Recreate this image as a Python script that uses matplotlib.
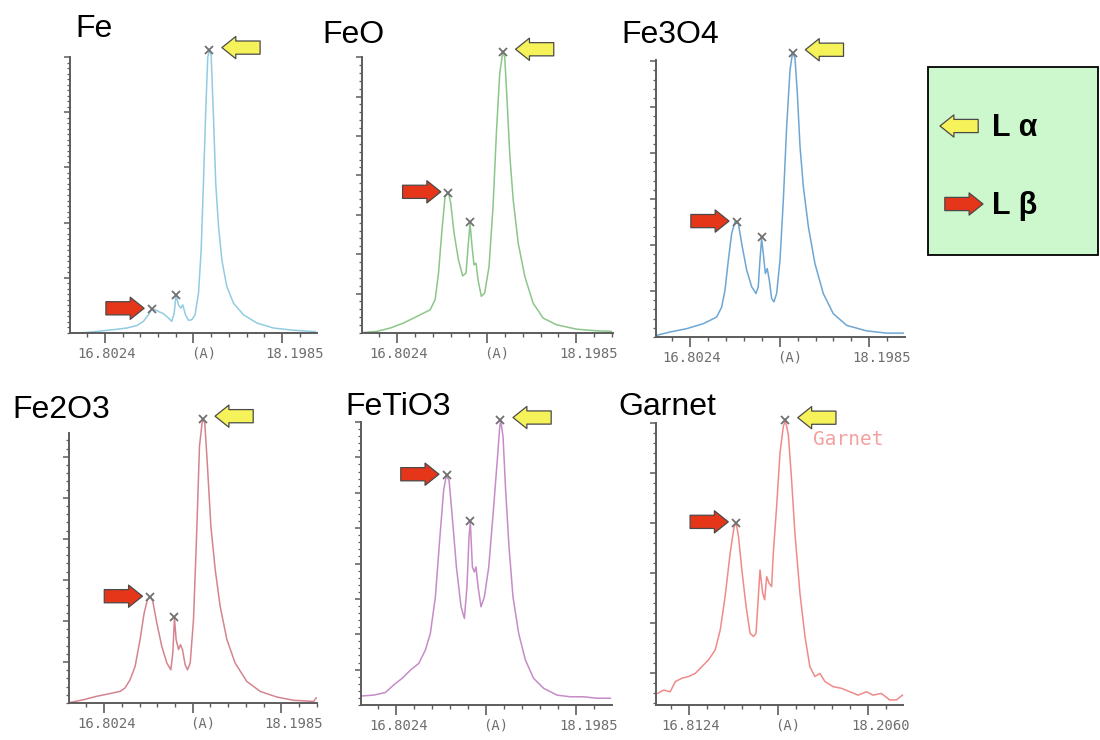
import numpy as np
import matplotlib
matplotlib.use("Agg")
import matplotlib.pyplot as plt
from matplotlib.ticker import FixedLocator, AutoMinorLocator
from matplotlib.transforms import offset_copy, ScaledTranslation
from matplotlib.patches import Rectangle

# =====================
# Data (wavelength in A, intensity in % of axis height)
# =====================
names = ["Fe", "FeO", "Fe3O4", "Fe2O3", "FeTiO3", "Garnet"]
colors = ["#92cbe2", "#8cc68a", "#6ea6d3", "#d4848f", "#c68cc6", "#f08a8a"]

fe_x = [16.539, 16.657, 16.763, 16.868, 16.974, 17.053, 17.105, 17.145, 17.171, 17.198,
        17.224, 17.263, 17.303, 17.329, 17.348, 17.363, 17.382, 17.400, 17.416, 17.437,
        17.461, 17.487, 17.513, 17.540, 17.561, 17.579, 17.598, 17.613, 17.626, 17.640,
        17.658, 17.676, 17.698, 17.724, 17.763, 17.816, 17.895, 18.001, 18.132, 18.290, 18.462]
fe_y = [0.0, 0.2, 0.7, 1.2, 1.8, 2.7, 4.2, 6.6, 8.6, 8.4,
        7.8, 7.0, 5.4, 4.2, 7.2, 13.8, 10.2, 9.0, 10.2, 6.6,
        4.6, 4.8, 6.6, 14.5, 30.1, 54.2, 81.9, 100.0, 102.4, 100.6,
        78.3, 54.2, 38.6, 26.5, 16.9, 10.8, 6.6, 3.6, 1.8, 1.0, 0.5]

feo_x = [16.544, 16.647, 16.751, 16.854, 16.958, 17.061, 17.100, 17.126, 17.151, 17.177,
         17.203, 17.221, 17.247, 17.281, 17.314, 17.340, 17.356, 17.371, 17.387, 17.402,
         17.418, 17.433, 17.459, 17.485, 17.519, 17.550, 17.576, 17.602, 17.626, 17.641,
         17.659, 17.681, 17.707, 17.746, 17.797, 17.862, 17.940, 18.043, 18.198, 18.353, 18.470]
feo_y = [0.2, 0.6, 1.8, 3.6, 6.0, 8.4, 12.1, 21.7, 36.2, 49.4,
         50.9, 47.0, 36.2, 26.5, 20.7, 21.7, 31.3, 39.8, 31.3, 24.7,
         25.3, 19.3, 13.3, 14.5, 24.1, 45.8, 72.3, 94.0, 101.8, 100.0,
         84.4, 63.9, 48.2, 32.5, 20.5, 10.8, 5.4, 3.0, 1.4, 0.8, 0.6]

f34_x = [16.543, 16.647, 16.776, 16.906, 17.010, 17.049, 17.075, 17.101, 17.127, 17.153,
         17.179, 17.205, 17.244, 17.283, 17.316, 17.334, 17.347, 17.360, 17.373, 17.389,
         17.404, 17.420, 17.438, 17.456, 17.477, 17.503, 17.529, 17.555, 17.581, 17.601,
         17.620, 17.638, 17.659, 17.685, 17.724, 17.775, 17.840, 17.918, 18.022, 18.178,
         18.334, 18.463]
f34_y = [0.6, 1.8, 3.0, 4.8, 7.2, 10.8, 16.9, 27.7, 37.4, 41.6,
         41.0, 33.7, 24.1, 18.1, 15.7, 18.1, 27.7, 35.5, 30.1, 22.9,
         24.7, 20.5, 13.9, 12.7, 15.7, 27.7, 49.4, 75.9, 96.4, 102.7,
         100.6, 88.0, 68.7, 54.2, 39.8, 26.5, 15.7, 8.4, 4.2, 2.2,
         1.4, 1.4]

f23_x = [16.534, 16.639, 16.745, 16.850, 16.929, 16.968, 17.007, 17.047, 17.086, 17.118,
         17.144, 17.165, 17.186, 17.218, 17.257, 17.297, 17.328, 17.344, 17.357, 17.370,
         17.389, 17.404, 17.420, 17.441, 17.460, 17.481, 17.507, 17.533, 17.554, 17.578,
         17.596, 17.617, 17.644, 17.678, 17.717, 17.770, 17.835, 17.927, 18.032, 18.164,
         18.295, 18.453, 18.474]
f23_y = [0.2, 1.2, 2.5, 3.5, 4.3, 5.6, 8.6, 13.6, 23.5, 33.3,
         38.3, 39.3, 37.7, 29.6, 21.0, 14.8, 12.3, 18.5, 31.5, 23.5,
         19.8, 21.6, 19.8, 14.2, 12.3, 14.8, 30.9, 64.2, 95.1, 105.2,
         103.7, 87.7, 65.4, 49.4, 35.8, 23.5, 14.8, 8.0, 4.3, 2.2,
         1.0, 0.6, 1.9]

fti_x = [16.536, 16.627, 16.717, 16.782, 16.846, 16.911, 16.976, 17.027, 17.066, 17.105,
         17.138, 17.169, 17.190, 17.211, 17.234, 17.268, 17.304, 17.330, 17.350, 17.366,
         17.376, 17.392, 17.407, 17.420, 17.436, 17.459, 17.485, 17.519, 17.557, 17.583,
         17.604, 17.612, 17.630, 17.650, 17.676, 17.707, 17.751, 17.803, 17.867, 17.945,
         18.048, 18.151, 18.255, 18.358, 18.462]
fti_y = [3.2, 3.5, 4.4, 7.1, 9.4, 12.3, 14.7, 19.4, 25.3, 38.2,
         58.2, 75.9, 81.1, 79.4, 67.6, 48.8, 34.7, 30.6, 41.8, 59.4,
         64.7, 48.8, 47.0, 48.8, 41.8, 34.7, 38.2, 48.8, 70.0, 85.3,
         98.2, 100.6, 94.7, 75.9, 55.9, 38.2, 25.3, 15.9, 9.4, 5.9,
         3.5, 2.9, 2.9, 2.4, 2.4]

gar_x = [16.572, 16.619, 16.670, 16.709, 16.761, 16.812, 16.864, 16.916, 16.967, 17.019,
         17.058, 17.096, 17.135, 17.166, 17.182, 17.200, 17.226, 17.259, 17.290, 17.316,
         17.336, 17.354, 17.367, 17.388, 17.403, 17.419, 17.437, 17.457, 17.470, 17.496,
         17.522, 17.548, 17.564, 17.587, 17.612, 17.638, 17.677, 17.716, 17.754, 17.793,
         17.832, 17.871, 17.935, 18.000, 18.064, 18.129, 18.193, 18.245, 18.309, 18.374,
         18.426, 18.472]
gar_y = [4.1, 5.3, 4.7, 8.3, 9.5, 10.1, 11.2, 13.6, 16.0, 19.5,
         26.6, 38.4, 53.8, 63.3, 64.5, 59.7, 47.9, 34.9, 25.4, 24.3,
         25.4, 38.4, 47.9, 39.6, 37.3, 45.5, 43.2, 42.0, 53.8, 70.4,
         89.3, 98.8, 100.9, 95.8, 79.9, 60.9, 39.6, 24.3, 13.6, 10.1,
         11.2, 8.3, 6.5, 5.9, 4.7, 3.5, 4.7, 3.5, 4.1, 1.8,
         1.8, 3.5]

# peak markers: [L-alpha, L-beta, extra]
fe_pk_x, fe_pk_y = [17.626, 17.171, 17.363], [102.4, 8.7, 13.9]
feo_pk_x, feo_pk_y = [17.628, 17.203, 17.369], [101.8, 50.9, 40.1]
f34_pk_x, f34_pk_y = [17.603, 17.166, 17.360], [102.7, 41.6, 36.2]
f23_pk_x, f23_pk_y = [17.578, 17.165, 17.357], [105.2, 39.3, 31.9]
fti_pk_x, fti_pk_y = [17.610, 17.192, 17.374], [100.6, 81.3, 65.0]
gar_pk_x, gar_pk_y = [17.563, 17.180], [100.9, 64.7]

tick_lo = [16.8024, 16.8024, 16.8024, 16.8024, 16.8024, 16.8124]
tick_hi = [18.1985, 18.1985, 18.1985, 18.1985, 18.1985, 18.2060]

xs = [fe_x, feo_x, f34_x, f23_x, fti_x, gar_x]
ys = [fe_y, feo_y, f34_y, f23_y, fti_y, gar_y]
pks_x = [fe_pk_x, feo_pk_x, f34_pk_x, f23_pk_x, fti_pk_x, gar_pk_x]
pks_y = [fe_pk_y, feo_pk_y, f34_pk_y, f23_pk_y, fti_pk_y, gar_pk_y]

# =====================
# Layout (pixel boxes of the scanned panels)
# =====================
W, H = 1100, 740
boxes = [(70, 57, 317, 333), (362, 57, 613, 333), (656, 60, 905, 337),
         (69, 433, 317, 703), (361, 422, 612, 705), (656, 423, 903, 705)]
xlims = [(16.526, 18.475), (16.531, 18.483), (16.538, 18.476),
         (16.526, 18.480), (16.528, 18.475), (16.5595, 18.477)]
y_start = [20, 14.28, 16.6, 15.2, 12.5, 11.2]
y_step = [20, 14.28, 16.6, 15.2, 12.5, 17.75]
y_minor = [10, 5, 5, 5, 5, 5]
title_pos = [(75, 37), (322, 43), (621, 43), (12, 418), (345, 415), (618, 415)]

AXIS_GRAY = "#5c5c5c"
LABEL_GRAY = "#6e6e6e"
YELLOW = "#f6f25a"
RED = "#e6361a"

fig = plt.figure(figsize=(11, 7.4), dpi=100)


def px_rect(x0, y0, x1, y1):
    return [x0 / W, 1 - y1 / H, (x1 - x0) / W, (y1 - y0) / H]


def block_arrow(ax, x, y, tip_dx, tip_dy, length, color, coords=None):
    # block arrow whose tip sits a few points away from (x, y)
    trans = offset_copy(coords if coords is not None else ax.transData,
                        fig=fig, x=tip_dx, y=tip_dy, units="points")
    ax.annotate("", xy=(x, y), xycoords=trans, xytext=(length, 0), textcoords="offset points",
                arrowprops=dict(arrowstyle="simple,head_length=1.0,head_width=1.6,tail_width=0.95",
                                mutation_scale=10, fc=color, ec="#4a4a4a", lw=0.9,
                                shrinkA=0, shrinkB=0),
                annotation_clip=False)


for i in range(6):
    ax = fig.add_axes(px_rect(*boxes[i]))
    ax.patch.set_visible(False)
    ax.plot(xs[i], ys[i], color=colors[i], lw=1.1, clip_on=False)
    ax.plot(pks_x[i], pks_y[i], ls="none", marker="x", ms=6, mew=1.3,
            color="#707070", clip_on=False)
    ax.set_xlim(*xlims[i])
    ax.set_ylim(0, 100)

    for s in ("top", "right"):
        ax.spines[s].set_visible(False)
    for s in ("left", "bottom"):
        ax.spines[s].set_color(AXIS_GRAY)
        ax.spines[s].set_linewidth(1.4)

    lo, hi = tick_lo[i], tick_hi[i]
    mid = (lo + hi) / 2
    step = (hi - lo) / 10
    ax.set_xticks([lo, mid, hi])
    ax.set_xticklabels([f"{lo:.4f}", "(A)", f"{hi:.4f}"])
    ax.xaxis.set_minor_locator(FixedLocator(np.arange(lo - 2 * step, xlims[i][1], step)))
    ax.tick_params(axis="x", which="major", length=7, width=1.2, color=AXIS_GRAY,
                   labelsize=10, labelcolor=LABEL_GRAY, pad=3)
    ax.tick_params(axis="x", which="minor", length=3, width=1.0, color=AXIS_GRAY)
    for lab, dx in zip(ax.get_xticklabels(), [1.5, 7, 9]):
        lab.set_fontfamily("DejaVu Sans Mono")
        lab.set_transform(lab.get_transform() + ScaledTranslation(dx / 72, 0, fig.dpi_scale_trans))

    ax.yaxis.set_major_locator(FixedLocator(np.arange(y_start[i], 100.05, y_step[i])))
    ax.yaxis.set_minor_locator(AutoMinorLocator(y_minor[i]))
    ax.tick_params(axis="y", which="major", length=4, width=1.1, color=AXIS_GRAY, labelleft=False)
    ax.tick_params(axis="y", which="minor", length=2, width=0.9, color=AXIS_GRAY)

    # L-alpha (yellow, pointing left) and L-beta (red, pointing right)
    block_arrow(ax, pks_x[i][0], pks_y[i][0], 9, 2, 27.5, YELLOW)
    block_arrow(ax, pks_x[i][1], pks_y[i][1], -5.5, 0.5, -27.5, RED)

    if names[i] == "Garnet":
        ax.text(0.636, 0.94, "Garnet", transform=ax.transAxes, fontsize=14,
                family="DejaVu Sans Mono", color="#f4a0a0", va="center", clip_on=False)

# overlay for titles and legend box
ov = fig.add_axes([0, 0, 1, 1])
ov.set_xlim(0, W)
ov.set_ylim(H, 0)
ov.axis("off")

for name, (tx, ty) in zip(names, title_pos):
    ov.text(tx, ty, name, fontsize=23, family="Liberation Sans", color="black", va="baseline")

ov.add_patch(Rectangle((928, 67), 170, 188, fc="#cdf7cd", ec="black", lw=1.3))
block_arrow(ov, 940, 126, 0, 0, 27.5, YELLOW, coords=ov.transData)
block_arrow(ov, 983, 204, 0, 0, -27.5, RED, coords=ov.transData)
ov.text(992, 128, "L α", fontsize=22, fontweight="bold", family="Liberation Sans", va="center")
ov.text(992, 206, "L β", fontsize=22, fontweight="bold", family="Liberation Sans", va="center")

fig.savefig("out.png", dpi=100)
